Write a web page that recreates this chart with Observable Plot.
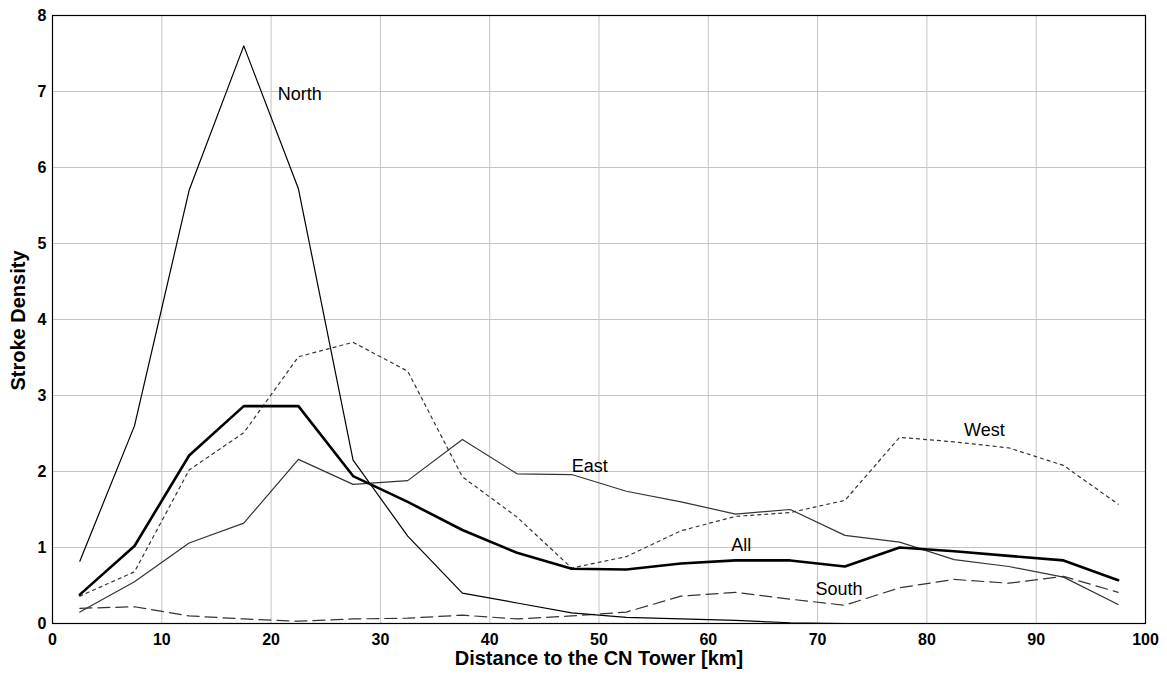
<!DOCTYPE html>
<html>
<head>
<meta charset="utf-8">
<script src="https://cdn.jsdelivr.net/npm/d3@7"></script>
<script src="https://cdn.jsdelivr.net/npm/@observablehq/plot@0.6"></script>
<style>
  html, body { margin: 0; padding: 0; background: #ffffff; }
  #chart { width: 1167px; height: 675px; }
</style>
</head>
<body>
<div id="chart"></div>
<script>
// Distance bin centres (km)
const distance = [2.5, 7.5, 12.5, 17.5, 22.5, 27.5, 32.5, 37.5, 42.5, 47.5,
                  52.5, 57.5, 62.5, 67.5, 72.5, 77.5, 82.5, 87.5, 92.5, 97.5];

// Stroke density per direction
const north = [0.82, 2.6, 5.70, 7.6, 5.72, 2.15, 1.15, 0.40, 0.27, 0.14,
               0.08, 0.06, 0.04, 0.01, 0.0, 0.0, 0.0, 0.0, 0.0, 0.0];
const east  = [0.15, 0.55, 1.06, 1.32, 2.16, 1.83, 1.88, 2.42, 1.97, 1.96,
               1.74, 1.60, 1.44, 1.50, 1.16, 1.07, 0.84, 0.75, 0.61, 0.25];
const west  = [0.36, 0.68, 2.02, 2.51, 3.51, 3.70, 3.32, 1.93, 1.40, 0.73,
               0.88, 1.22, 1.41, 1.46, 1.62, 2.45, 2.39, 2.31, 2.08, 1.57];
const south = [0.20, 0.22, 0.10, 0.06, 0.03, 0.06, 0.07, 0.11, 0.06, 0.10,
               0.15, 0.36, 0.41, 0.32, 0.24, 0.47, 0.58, 0.53, 0.62, 0.41];
const all   = [0.38, 1.02, 2.21, 2.86, 2.86, 1.94, 1.60, 1.23, 0.93, 0.72,
               0.71, 0.79, 0.83, 0.83, 0.75, 1.00, 0.95, 0.89, 0.83, 0.57];

// In-chart series labels (data coordinates)
const labelNames = ["North", "East", "All", "South", "West"];
const labelX     = [20.6, 47.5, 62.1, 69.8, 83.4];
const labelY     = [6.97, 2.07, 1.03, 0.45, 2.54];

const xTicks = [0, 10, 20, 30, 40, 50, 60, 70, 80, 90, 100];
const yTicks = [0, 1, 2, 3, 4, 5, 6, 7, 8];

const toRows = (vals) => distance.map((d, i) => ({x: d, y: vals[i]}));
const labels = labelNames.map((n, i) => ({name: n, x: labelX[i], y: labelY[i]}));

const chart = Plot.plot({
  width: 1167,
  height: 675,
  marginLeft: 52,
  marginRight: 22,
  marginTop: 15,
  marginBottom: 52,
  style: {fontFamily: "'Liberation Sans', Arial, sans-serif", background: "#ffffff", fontSize: "16px", fontWeight: "bold", color: "#000"},
  x: {domain: [0, 100]},
  y: {domain: [0, 8]},
  marks: [
    Plot.gridX(xTicks, {stroke: "#c4c4c4", strokeOpacity: 1, strokeWidth: 1}),
    Plot.gridY(yTicks, {stroke: "#c4c4c4", strokeOpacity: 1, strokeWidth: 1}),
    Plot.axisX(xTicks, {tickSize: 0, tickPadding: 10, tickFormat: (d) => String(d), fill: "#000", label: null}),
    Plot.axisY(yTicks, {tickSize: 0, tickPadding: 6, tickFormat: (d) => String(d), fill: "#000", label: null}),
    Plot.line(toRows(south), {x: "x", y: "y", stroke: "#333", strokeWidth: 1.2, strokeDasharray: "12,6"}),
    Plot.line(toRows(west), {x: "x", y: "y", stroke: "#333", strokeWidth: 1.2, strokeDasharray: "3,4"}),
    Plot.line(toRows(east), {x: "x", y: "y", stroke: "#333", strokeWidth: 1.2}),
    Plot.line(toRows(north), {x: "x", y: "y", stroke: "#000", strokeWidth: 1.2}),
    Plot.line(toRows(all), {x: "x", y: "y", stroke: "#000", strokeWidth: 2.6}),
    Plot.frame({stroke: "#000", strokeWidth: 1.2}),
    Plot.text(labels, {x: "x", y: "y", text: "name", textAnchor: "start", fontSize: 18, fontWeight: "normal", fill: "#000"}),
    Plot.text(["Distance to the CN Tower [km]"], {frameAnchor: "bottom", lineAnchor: "middle", dy: 35, fontSize: 20, fontWeight: "bold", fill: "#000"}),
    Plot.text(["Stroke Density"], {frameAnchor: "left", textAnchor: "middle", lineAnchor: "middle", dx: -34, dy: 1, rotate: -90, fontSize: 20, fontWeight: "bold", fill: "#000"})
  ]
});

document.getElementById("chart").appendChild(chart);
</script>
</body>
</html>
